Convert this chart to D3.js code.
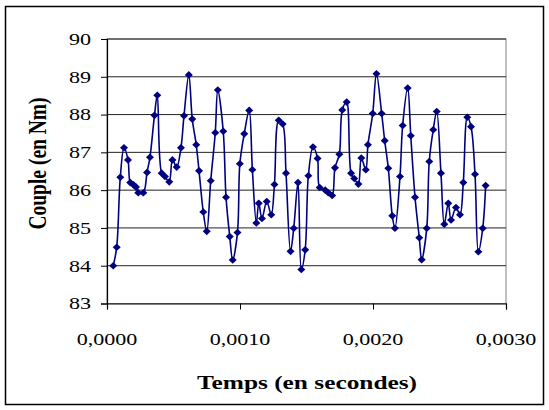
<!DOCTYPE html>
<html>
<head>
<meta charset="utf-8">
<script src="https://cdn.jsdelivr.net/npm/d3@7"></script>
<style>
  html, body { margin: 0; padding: 0; background: #fff; }
  svg { display: block; }
</style>
</head>
<body>
<svg id="chart" width="549" height="410"></svg>
<script>
// ---- data ----
const temps = [
  0.000047, 0.000073, 0.000100, 0.000128, 0.000158, 0.000175, 0.000199, 0.000218, 0.000235, 0.000273,
  0.000301, 0.000323, 0.000357, 0.000378, 0.000411, 0.000436, 0.000468, 0.000492, 0.000524, 0.000556,
  0.000579, 0.000615, 0.000641, 0.000671, 0.000692, 0.000724, 0.000750, 0.000780, 0.000814, 0.000833,
  0.000874, 0.000895, 0.000923, 0.000945, 0.000981, 0.000999, 0.001032, 0.001069, 0.001093, 0.001123,
  0.001141, 0.001165, 0.001201, 0.001235, 0.001259, 0.001291, 0.001321, 0.001346, 0.001380, 0.001404,
  0.001436, 0.001461, 0.001490, 0.001514, 0.001549, 0.001583, 0.001599, 0.001641, 0.001664, 0.001693,
  0.001714, 0.001747, 0.001769, 0.001802, 0.001835, 0.001859, 0.001890, 0.001912, 0.001946, 0.001962,
  0.001998, 0.002026, 0.002065, 0.002088, 0.002115, 0.002145, 0.002165, 0.002203, 0.002223, 0.002261,
  0.002284, 0.002316, 0.002348, 0.002366, 0.002404, 0.002423, 0.002453, 0.002479, 0.002511, 0.002536,
  0.002566, 0.002587, 0.002624, 0.002654, 0.002679, 0.002709, 0.002737, 0.002767, 0.002792, 0.002825,
  0.002847
];
const couple = [
  84.00, 84.49, 86.34, 87.12, 86.80, 86.20, 86.14, 86.08, 85.93, 85.93,
  86.47, 86.87, 87.98, 88.51, 86.45, 86.36, 86.22, 86.80, 86.61, 87.12,
  87.97, 89.05, 87.88, 87.20, 86.51, 85.42, 84.91, 86.25, 87.52, 88.65,
  87.56, 85.81, 84.77, 84.15, 84.88, 86.70, 87.49, 88.11, 86.54, 85.13,
  85.65, 85.25, 85.70, 85.35, 86.15, 87.85, 87.75, 86.45, 84.38, 84.99,
  86.20, 83.90, 84.42, 86.38, 87.14, 86.84, 86.07, 86.00, 85.93, 85.86,
  86.59, 86.95, 88.12, 88.33, 86.45, 86.31, 86.16, 86.85, 86.54, 87.20,
  88.03, 89.08, 88.03, 87.31, 86.58, 85.32, 84.99, 86.36, 87.71, 88.70,
  87.44, 85.81, 84.74, 84.16, 84.99, 86.76, 87.60, 88.08, 86.45, 85.10,
  85.65, 85.21, 85.54, 85.35, 86.20, 87.93, 87.68, 86.42, 84.37, 84.99,
  86.12
];
const xTicks = [0, 0.001, 0.002, 0.003];
const yTicks = [83, 84, 85, 86, 87, 88, 89, 90];
const xTitle = "Temps (en secondes)";
const yTitle = "Couple (en Nm)";

// ---- layout ----
const svg = d3.select("#chart");
const pL = 107, pR = 506, pT = 39, pB = 303.5;
const SX = 1.3; // horizontal stretch of the original text
const font = "'Liberation Serif', 'Times New Roman', serif";

const x = d3.scaleLinear().domain([0, 0.003]).range([pL, pR]);
const y = d3.scaleLinear().domain([83, 90]).range([pB, pT]);

// outer frame
svg.append("rect").attr("x", 5.5).attr("y", 6.5).attr("width", 538).attr("height", 398)
  .attr("fill", "#fff").attr("stroke", "#000").attr("stroke-width", 1.5);

// plot area border
svg.append("rect").attr("x", pL).attr("y", pT).attr("width", pR - pL).attr("height", pB - pT)
  .attr("fill", "#fff").attr("stroke", "#808080").attr("stroke-width", 1);

// gridlines
svg.append("g").selectAll("line").data(yTicks.filter(d => d > 83)).join("line")
  .attr("x1", pL).attr("x2", pR)
  .attr("y1", d => y(d)).attr("y2", d => y(d))
  .attr("stroke", "#222").attr("stroke-width", 1);

// axes
const fmtX = d => d3.format(".4f")(d).replace(".", ",");
const gx = svg.append("g").attr("transform", `translate(0,${pB})`)
  .call(d3.axisBottom(x).tickValues(xTicks).tickSize(6).tickFormat(""));
const gy = svg.append("g").attr("transform", `translate(${pL},0)`)
  .call(d3.axisLeft(y).tickValues(yTicks).tickSize(6).tickFormat(""));
[gx, gy].forEach(g => {
  g.select(".domain").attr("stroke", "#000").attr("stroke-width", 1.2);
  g.selectAll(".tick line").attr("stroke", "#000");
});

// tick labels (stretched horizontally like the original)
svg.append("g").selectAll("text").data(xTicks).join("text")
  .attr("transform", d => `translate(${x(d)},345) scale(${SX},1)`)
  .attr("text-anchor", "middle")
  .attr("font-family", font).attr("font-size", 17).attr("fill", "#000")
  .text(fmtX);
svg.append("g").selectAll("text").data(yTicks).join("text")
  .attr("transform", d => `translate(91,${y(d) + 5.8}) scale(${SX},1)`)
  .attr("text-anchor", "end")
  .attr("font-family", font).attr("font-size", 17).attr("fill", "#000")
  .text(d => d);

// axis titles
svg.append("text")
  .attr("transform", `translate(307,389) scale(${SX},1)`)
  .attr("text-anchor", "middle")
  .attr("font-family", font).attr("font-weight", "bold").attr("font-size", 19.5).attr("fill", "#000")
  .text(xTitle);
svg.append("text")
  .attr("transform", `translate(46,163.5) scale(${SX},1) rotate(-90)`)
  .attr("text-anchor", "middle")
  .attr("font-family", font).attr("font-weight", "bold").attr("font-size", 19.5).attr("fill", "#000")
  .text(yTitle);

// series
const data = temps.map((t, i) => ({ t, v: couple[i] }));
const line = d3.line().x(d => x(d.t)).y(d => y(d.v)).curve(d3.curveCatmullRom.alpha(0.5));
svg.append("path").datum(data).attr("d", line)
  .attr("fill", "none").attr("stroke", "#000080").attr("stroke-width", 1.6);

const diamond = "M0,-3.8L4,0L0,3.8L-4,0Z";
svg.append("g").selectAll("path").data(data).join("path")
  .attr("transform", d => `translate(${x(d.t)},${y(d.v)})`)
  .attr("d", diamond).attr("fill", "#000080").attr("stroke", "none");
</script>
</body>
</html>
